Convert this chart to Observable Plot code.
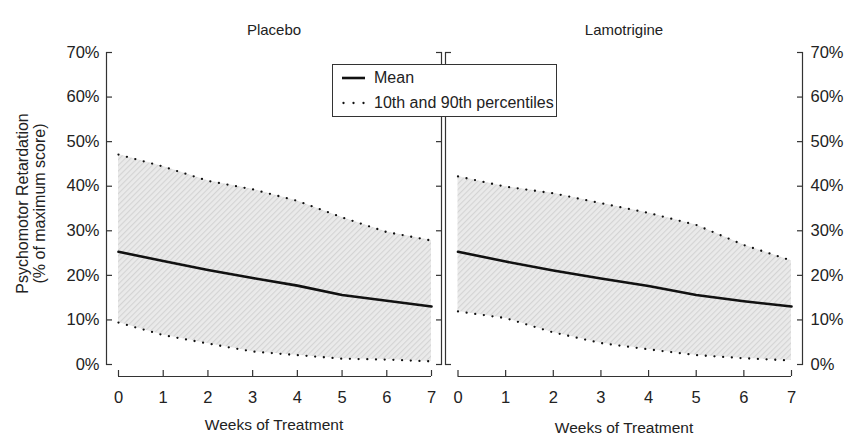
<!DOCTYPE html>
<html><head><meta charset="utf-8">
<script src="https://cdn.jsdelivr.net/npm/d3@7"></script>
<script src="https://cdn.jsdelivr.net/npm/@observablehq/plot@0.6"></script>
<style>
body{margin:0;background:#fff;}
#chart{position:relative;width:851px;height:438px;font-family:"Liberation Sans",Arial,Helvetica,sans-serif;color:#222;overflow:hidden;}
#legend{position:absolute;left:332px;top:64px;width:223px;height:51px;border:1px solid #333;background:#fff;font-size:16px;z-index:5;}
#legend .row{position:absolute;left:9px;height:20px;display:flex;align-items:center;white-space:nowrap;}
#legend svg{margin-right:8px;}
</style></head><body><div id="chart"><div id="legend"></div></div>
<script>
const weeks = [0, 1, 2, 3, 4, 5, 6, 7];
const panelTitles = ["Placebo", "Lamotrigine"];
const placeboMean = [25.3, 23.2, 21.2, 19.4, 17.7, 15.6, 14.3, 13.0];
const placeboP90 = [47.1, 44.4, 41.2, 39.3, 36.7, 33.0, 29.7, 27.8];
const placeboP10 = [9.4, 6.6, 4.7, 2.9, 2.1, 1.3, 1.1, 0.7];
const lamoMean = [25.3, 23.1, 21.1, 19.3, 17.6, 15.6, 14.2, 13.0];
const lamoP90 = [42.2, 39.9, 38.4, 36.2, 34.0, 31.3, 26.8, 23.3];
const lamoP10 = [11.9, 10.4, 7.2, 4.8, 3.4, 2.1, 1.4, 0.9];
const yTicks = [0, 10, 20, 30, 40, 50, 60, 70];
const xTicks = [0, 1, 2, 3, 4, 5, 6, 7];
const yTitle = "Psychomotor Retardation\n(% of maximum score)";
const xTitle = "Weeks of Treatment";
const legendLabels = ["Mean", "10th and 90th percentiles"];

const FONT = '"Liberation Sans", Arial, Helvetica, sans-serif';
const AX = "#333";
const chart = document.getElementById("chart");

function rows(mean, p10, p90) {
  return weeks.map((w, i) => ({week: w, mean: mean[i], p10: p10[i], p90: p90[i]}));
}

function addPattern(svg, id) {
  const ns = "http://www.w3.org/2000/svg";
  const defs = document.createElementNS(ns, "defs");
  defs.innerHTML = `<pattern id="${id}" width="4" height="4" patternUnits="userSpaceOnUse" patternTransform="rotate(45)">
    <rect width="4" height="4" fill="#eaeaea"/><rect width="1.1" height="4" fill="#d4d4d4"/></pattern>`;
  svg.insertBefore(defs, svg.firstChild);
}

// tick-only and text-only axis helpers built from Plot's axis marks
const ticksX = o => Plot.axisX({label: null, fill: "none", stroke: AX, strokeWidth: 1.2, ...o});
const textX = o => Plot.axisX({label: null, tickSize: 0, fontSize: 16.5, ...o});
const ticksY = o => Plot.axisY({label: null, fill: "none", stroke: AX, strokeWidth: 1.2, ...o});
const textY = o => Plot.axisY({label: null, stroke: "none", fontSize: 16.5, ...o});

function panel(title, data, cfg) {
  const marks = [
    Plot.areaY(data, {x: "week", y1: "p10", y2: "p90", fill: `url(#${cfg.pat})`}),
    Plot.lineY(data, {x: "week", y: "p90", stroke: "#111", strokeWidth: 2.3, strokeDasharray: "0 8.7", strokeLinecap: "round"}),
    Plot.lineY(data, {x: "week", y: "p10", stroke: "#111", strokeWidth: 2.3, strokeDasharray: "0 8.7", strokeLinecap: "round"}),
    Plot.lineY(data, {x: "week", y: "mean", stroke: "#111", strokeWidth: 2.6}),
    Plot.frame({anchor: "left", insetBottom: 12, stroke: AX, strokeWidth: 1.2}),
    Plot.frame({anchor: "right", insetBottom: 12, stroke: AX, strokeWidth: 1.2}),
    Plot.ruleY([0], {x1: 0, x2: 7, dy: 12, stroke: AX, strokeWidth: 1.2}),
    ticksX({anchor: "bottom", ticks: xTicks, tickSize: 6, dy: -6}),
    textX({anchor: "bottom", ticks: xTicks, tickPadding: 15, tickFormat: d => String(d)}),
    Plot.text([title], {frameAnchor: "top", dy: -22, lineAnchor: "middle", textAnchor: "middle", fontSize: 15}),
    Plot.text([xTitle], {frameAnchor: "bottom", dy: cfg.xTitleDy, lineAnchor: "middle", textAnchor: "middle", fontSize: 15.5})
  ];
  if (cfg.side === "left") {
    marks.push(
      ticksY({anchor: "left", ticks: yTicks, tickSize: 6, dx: 6}),
      textY({anchor: "left", ticks: yTicks, tickSize: 6, tickPadding: 1, tickFormat: d => d + "%"}),
      ticksY({anchor: "right", ticks: yTicks, tickSize: 6, dx: -6}),
      Plot.text([yTitle], {frameAnchor: "left", rotate: -90, dx: -75, dy: -11, lineHeight: 1.05, textAnchor: "middle", lineAnchor: "middle", fontSize: 16})
    );
  } else {
    marks.push(
      ticksY({anchor: "left", ticks: [0, 70], tickSize: 6, dx: 6}),
      ticksY({anchor: "right", ticks: yTicks, tickSize: 6, dx: -6}),
      textY({anchor: "right", ticks: yTicks, tickSize: 6, tickPadding: 2, tickFormat: d => d + "%"})
    );
  }
  const svg = Plot.plot({
    width: cfg.width, height: 438,
    marginTop: 52, marginBottom: 62, marginLeft: cfg.ml, marginRight: cfg.mr,
    x: {domain: [0, 7], insetLeft: cfg.il, insetRight: cfg.ir},
    y: {domain: [0, 70], insetBottom: 12},
    style: {fontSize: "15px", fontFamily: FONT, color: "#222", background: "transparent", overflow: "visible"},
    marks
  });
  addPattern(svg, cfg.pat);
  svg.style.position = "absolute";
  svg.style.top = "0px";
  svg.style.left = cfg.left + "px";
  svg.style.maxWidth = "none";
  chart.appendChild(svg);
}

panel(panelTitles[0], rows(placeboMean, placeboP10, placeboP90),
  {side: "left", width: 443, ml: 106, mr: 2, il: 12, ir: 10, left: 0, pat: "hatchA", xTitleDy: 49});
panel(panelTitles[1], rows(lamoMean, lamoP10, lamoP90),
  {side: "right", width: 408, ml: 2, mr: 49, il: 12.5, ir: 11, left: 443, pat: "hatchB", xTitleDy: 52});

const legend = document.getElementById("legend");
legend.innerHTML = `
  <div class="row" style="top:3px"><svg width="24" height="10"><line x1="0" x2="23" y1="5" y2="5" stroke="#111" stroke-width="2.6"/></svg>${legendLabels[0]}</div>
  <div class="row" style="top:28px"><svg width="24" height="10"><line x1="1.5" x2="22" y1="5" y2="5" stroke="#111" stroke-width="2.3" stroke-dasharray="0 10" stroke-linecap="round"/></svg>${legendLabels[1]}</div>`;
</script>
</body></html>
